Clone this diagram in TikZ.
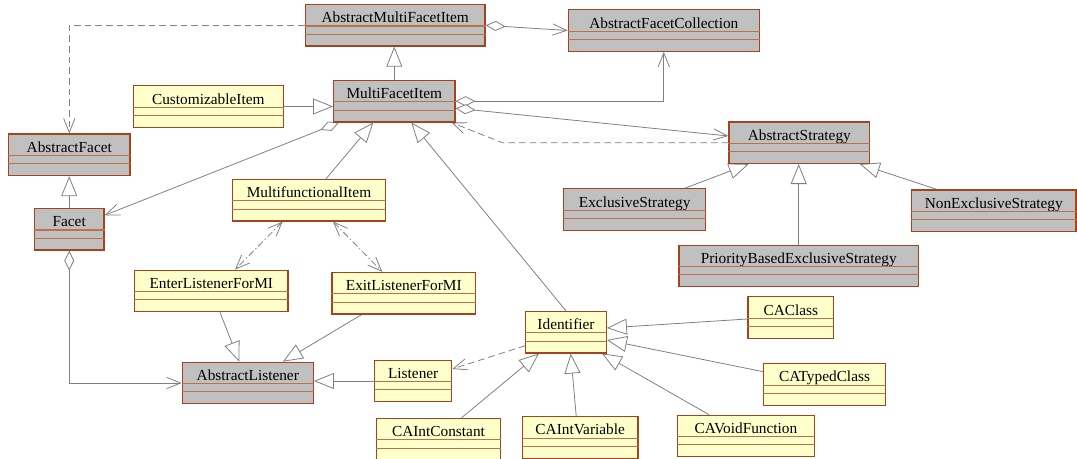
\documentclass[tikz,border=0pt]{standalone}
\usepackage{fontspec}
\setmainfont{Liberation Serif}
\usetikzlibrary{arrows.meta,positioning,calc,backgrounds}
\definecolor{rust}{HTML}{A5441C}
\definecolor{rustlight}{HTML}{BE7048}
\definecolor{clsgray}{HTML}{C0C0C0}
\definecolor{clsyellow}{HTML}{FFFFCC}
\definecolor{linegray}{HTML}{808080}
\tikzset{
  >={Straight Barb[length=10.5pt,width=8.5pt]},
  % classes
  cls/.style={rectangle,draw=rust,fill=clsgray,line width=0.9pt,inner sep=0pt,
              text height=13.7pt,text depth=17.4pt,font=\fontsize{11.5}{12}\selectfont},
  ycls/.style={cls,fill=clsyellow},
  wd/.style={minimum width=#1*0.75pt},
  comp/.style={draw=rustlight,line width=0.8pt},
  % relations
  gen/.style={draw=linegray,line width=0.6pt,
              -{Triangle[open,length=15pt,width=12pt,fill=white]}},
  assoc/.style={->,draw=linegray,line width=0.6pt},
  agg/.style={{Diamond[open,length=15pt,width=7.5pt,fill=white]}->,
              draw=linegray,line width=0.6pt},
  dep/.style={->,draw=linegray,line width=0.6pt,dash pattern=on 5pt off 3pt},
  dep2/.style={<->,draw=linegray,line width=0.6pt,dash pattern=on 5pt off 2pt on 1pt off 2pt},
}
\begin{document}
\begin{tikzpicture}[x=0.75pt,y=-0.75pt]
  \useasboundingbox (0,0) rectangle (1077,459);
  \node[cls,wd=179.7] (amfi) at (395.2,25.3) {AbstractMultiFacetItem};
  \node[cls,wd=191] (afc) at (663.8,30.5) {AbstractFacetCollection};
  \node[ycls,wd=150] (cust) at (208.3,106.5) {CustomizableItem};
  \node[cls,wd=121.3] (mfi) at (394.3,101.2) {MultiFacetItem};
  \node[cls,wd=121.3] (af) at (69.3,154.8) {AbstractFacet};
  \node[cls,wd=140.7] (as) at (799.3,142.7) {AbstractStrategy};
  \node[cls,wd=69.7] (facet) at (69.2,229.3) {Facet};
  \node[ycls,wd=153.4] (mfunc) at (309,200.2) {MultifunctionalItem};
  \node[cls,wd=142] (exs) at (634.7,209.6) {ExclusiveStrategy};
  \node[cls,wd=164.3] (nes) at (993.8,210.7) {NonExclusiveStrategy};
  \node[cls,wd=239.3] (pbes) at (798.7,266) {PriorityBasedExclusiveStrategy};
  \node[ycls,wd=153.3] (enter) at (211.3,291) {EnterListenerForMI};
  \node[ycls,wd=143.7] (exit) at (403.8,293.2) {ExitListenerForMI};
  \node[ycls,wd=85.7] (caclass) at (790.8,317.5) {CAClass};
  \node[ycls,wd=80.6] (ident) at (566,332.2) {Identifier};
  \node[cls,wd=131] (al) at (247.8,383) {AbstractListener};
  \node[ycls,wd=77] (lis) at (413.2,381) {Listener};
  \node[ycls,wd=121.6] (catc) at (824.5,384.4) {CATypedClass};
  \node[ycls,wd=124.4] (caic) at (438.5,439.2) {CAIntConstant};
  \node[ycls,wd=115.7] (caiv) at (580.2,437.4) {CAIntVariable};
  \node[ycls,wd=137.4] (cavf) at (746,436) {CAVoidFunction};
  \foreach \n in {amfi,afc,cust,mfi,af,as,facet,mfunc,exs,nes,pbes,enter,exit,
                  caclass,ident,al,lis,catc,caic,caiv,cavf} {
    \draw[comp] ($(\n.north west)!0.516!(\n.south west)$) -- ($(\n.north east)!0.516!(\n.south east)$);
    \draw[comp] ($(\n.north west)!0.71!(\n.south west)$) -- ($(\n.north east)!0.71!(\n.south east)$);
  }
  \coordinate (bend) at (502.3,142.7);
  \begin{scope}[on background layer]
  \draw[dep] (amfi.west) -| (af.north);
  \draw[agg] (amfi.east) -- (afc.west);
  \draw[gen] (mfi.north) -- (mfi.north |- amfi.south);
  \draw[gen] (cust.east) -- (cust.east -| mfi.west);
  \draw[agg] (mfi.east) -| (afc.south);
  \draw[agg] ($(mfi.east)+(0,7)$) -- ($(as.west)+(0,-6.7)$);
  \draw[dep] (as.west) -- (bend) -- ($(mfi.south east)+(-4,0)$);
  \draw[agg] ($(mfi.south west)+(6,0)$) -- ($(facet.east)+(0,-14)$);
  \draw[gen] (facet.north) -- (facet.north |- af.south);
  \draw[gen] ($(mfunc.north)+(17,0)$) -- ($(mfi.south)+(-21,0)$);
  \draw[gen] (ident.north) -- ($(mfi.south)+(17,0)$);
  \draw[gen] ($(exs.north)+(50,0)$) -- ($(as.south)+(-50.6,0)$);
  \draw[gen] (pbes.north) -- (pbes.north |- as.south);
  \draw[gen] ($(nes.north)+(-57,0)$) -- ($(as.south)+(60.4,0)$);
  \draw[dep2] ($(mfunc.south)+(-26.3,0)$) -- ($(enter.north)+(23.7,0)$);
  \draw[dep2] ($(mfunc.south)+(24,0)$) -- ($(exit.north)+(-21.5,0)$);
  \draw[gen] ($(enter.south)+(8.7,0)$) -- ($(al.north)+(-8.5,0)$);
  \draw[gen] ($(exit.south)+(-42,0)$) -- ($(al.north)+(35,0)$);
  \draw[gen] (lis.west) -- (lis.west -| al.east);
  \draw[dep] ($(ident.west)+(0,13.5)$) -- ($(lis.east)+(0,-12)$);
  \draw[agg] (facet.south) |- (al.west);
  \draw[gen] ($(caclass.west)+(0,1.5)$) -- ($(ident.east)+(0,-4.2)$);
  \draw[gen] ($(catc.west)+(0,-12.7)$) -- ($(ident.east)+(0,7.8)$);
  \draw[gen] ($(cavf.north)+(-37,0)$) -- ($(ident.south east)+(-5,0)$);
  \draw[gen] ($(caiv.north)+(-4,0)$) -- ($(ident.south)+(4.7,0)$);
  \draw[gen] ($(caic.north)+(23,0)$) -- ($(ident.south)+(-27,0)$);
  \end{scope}
\end{tikzpicture}
\end{document}
